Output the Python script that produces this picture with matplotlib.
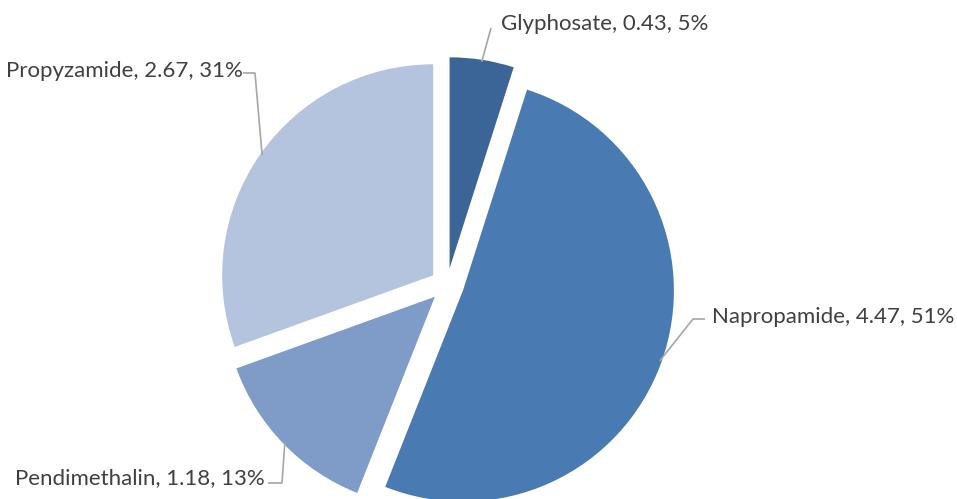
import numpy as np
import matplotlib.pyplot as plt

names = ['Glyphosate', 'Napropamide', 'Pendimethalin', 'Propyzamide']
amounts = [0.43, 4.47, 1.18, 2.67]
percents = ['5%', '51%', '13%', '31%']
colors = ['#3B6597', '#4A7AB2', '#7F9CC8', '#B4C3DE']

plt.rcParams['font.family'] = ['Lato', 'DejaVu Sans']

fig = plt.figure(figsize=(9.57, 4.99), dpi=100)
ax = fig.add_axes([0, 0, 1, 1])

radius = 211
center = (447, 214)
explode = [0.08 * radius] * 4

wedges, _ = ax.pie(amounts, colors=colors, startangle=90, counterclock=False,
                   radius=radius, center=center, explode=explode)
ax.set_xlim(0, 957)
ax.set_ylim(0, 499)
ax.set_aspect('equal')
ax.axis('off')

# text position, elbow points of the leader line, alignment
label_pos = [
    ((501, 475), [(491, 471)], 'left'),
    ((712, 182), [(705, 180), (693, 180)], 'left'),
    ((265, 21), [(268, 16), (282, 16)], 'right'),
    ((243, 428), [(243, 426), (255, 426)], 'right'),
]

line_col = '#A6A6A6'
for w, name, amt, pct, (txt, pts, ha) in zip(wedges, names, amounts, percents, label_pos):
    mid = np.deg2rad((w.theta1 + w.theta2) / 2)
    cx, cy = w.center
    anchor = (cx + (w.r - 2) * np.cos(mid), cy + (w.r - 2) * np.sin(mid))
    path = pts + [anchor]
    ax.plot([p[0] for p in path], [p[1] for p in path], color=line_col, lw=1.2,
            solid_capstyle='butt', zorder=3)
    ax.text(txt[0], txt[1], f'{name}, {amt:.2f}, {pct}', ha=ha, va='center',
            fontsize=16, color='#404040')

fig.savefig('out.png', dpi=100)
